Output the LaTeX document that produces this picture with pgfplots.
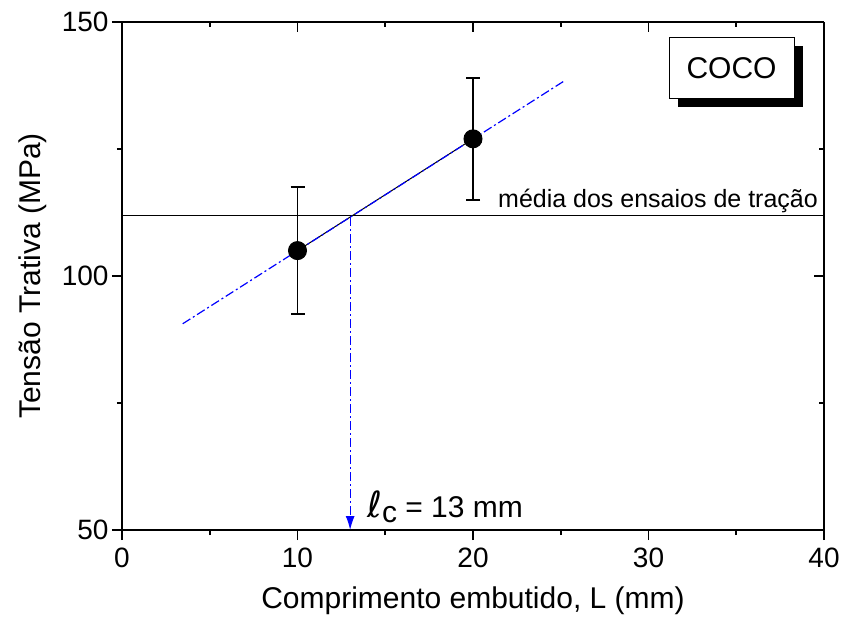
\documentclass[border=0pt]{standalone}
\usepackage{fontspec}
\setmainfont{Liberation Sans}
\newfontfamily\dejavu{DejaVu Sans}
\usepackage{pgfplots}
\pgfplotsset{compat=1.18}
\usetikzlibrary{arrows.meta,calc,shadows}

\pgfplotsset{
  frame/.style={
    width=702bp, height=508bp, scale only axis,
    xmin=0, xmax=40, ymin=50, ymax=150,
    xtick={0,10,...,40}, ytick={50,100,150},
    minor xtick={5,15,25,35}, minor ytick={75,125},
    major tick length=10bp, minor tick length=5bp,
    axis line style={line width=2bp},
    tick style={black, line width=1.6bp},
  },
  dashdot/.style={blue, line width=1.2bp, dash pattern=on 9bp off 3bp on 2bp off 3bp},
}

\begin{document}
\begin{tikzpicture}
% top and right frame, ticks inside
\begin{axis}[frame, axis x line*=top, axis y line*=right, tick align=inside,
  xticklabels={}, yticklabels={}]
\end{axis}

\begin{axis}[frame, axis x line*=bottom, axis y line*=left, tick align=outside,
  clip=false,
  xlabel={Comprimento embutido, L (mm)},
  ylabel={Tensão Trativa (MPa)},
  tick label style={font=\fontsize{28bp}{32bp}\selectfont},
  xticklabel style={yshift=-4bp},
  label style={font=\fontsize{30bp}{36bp}\selectfont},
  xlabel style={yshift=-13bp},
  ylabel style={yshift=8bp},
  /pgf/number format/assume math mode=true,
]
\coordinate (SW) at (rel axis cs:0,0);
\coordinate (NE) at (rel axis cs:1,1);

% mean of tensile tests
\addplot[black, line width=1bp] coordinates {(0,112) (40,112)};

% pull-out data
\addplot[black, line width=1bp, mark=*, mark size=9bp,
  mark options={solid, fill=black},
  error bars/.cd, y dir=both, y explicit,
  error bar style={line width=1.6bp},
  error mark options={rotate=90, mark size=7bp, line width=1.6bp}]
  coordinates {
  (10,105) +- (0,12.5)
  (20,127) +- (0,12)
};

% linear fit
\addplot[dashdot] coordinates {(3.46,90.6) (25.2,138.4)};

% critical length
\addplot[dashdot, -{Latex[length=14bp,width=9bp]}] coordinates {(13,111.6) (13,50)};

\node[anchor=base east, inner sep=0pt, font=\fontsize{25bp}{30bp}\selectfont]
  at (axis cs:39.66,113.4) {média dos ensaios de tração};

\node[anchor=base west, inner sep=0pt, font=\fontsize{30bp}{34bp}\selectfont]
  at (axis cs:13.96,52.4) {{\dejavu\fontsize{36bp}{40bp}\selectfont ℓ}\raisebox{-5bp}{c} = 13 mm};

\node[draw, fill=white, line width=1bp, minimum width=125bp, minimum height=61bp,
  font=\fontsize{30bp}{36bp}\selectfont,
  general shadow={fill=black, shadow xshift=9bp, shadow yshift=-9bp}]
  at (axis cs:34.73,141.0) {COCO};
\end{axis}

\pgfresetboundingbox
\path[use as bounding box] ($(SW)+(-122bp,-86bp)$) rectangle ($(NE)+(21bp,22bp)$);
\end{tikzpicture}
\end{document}
